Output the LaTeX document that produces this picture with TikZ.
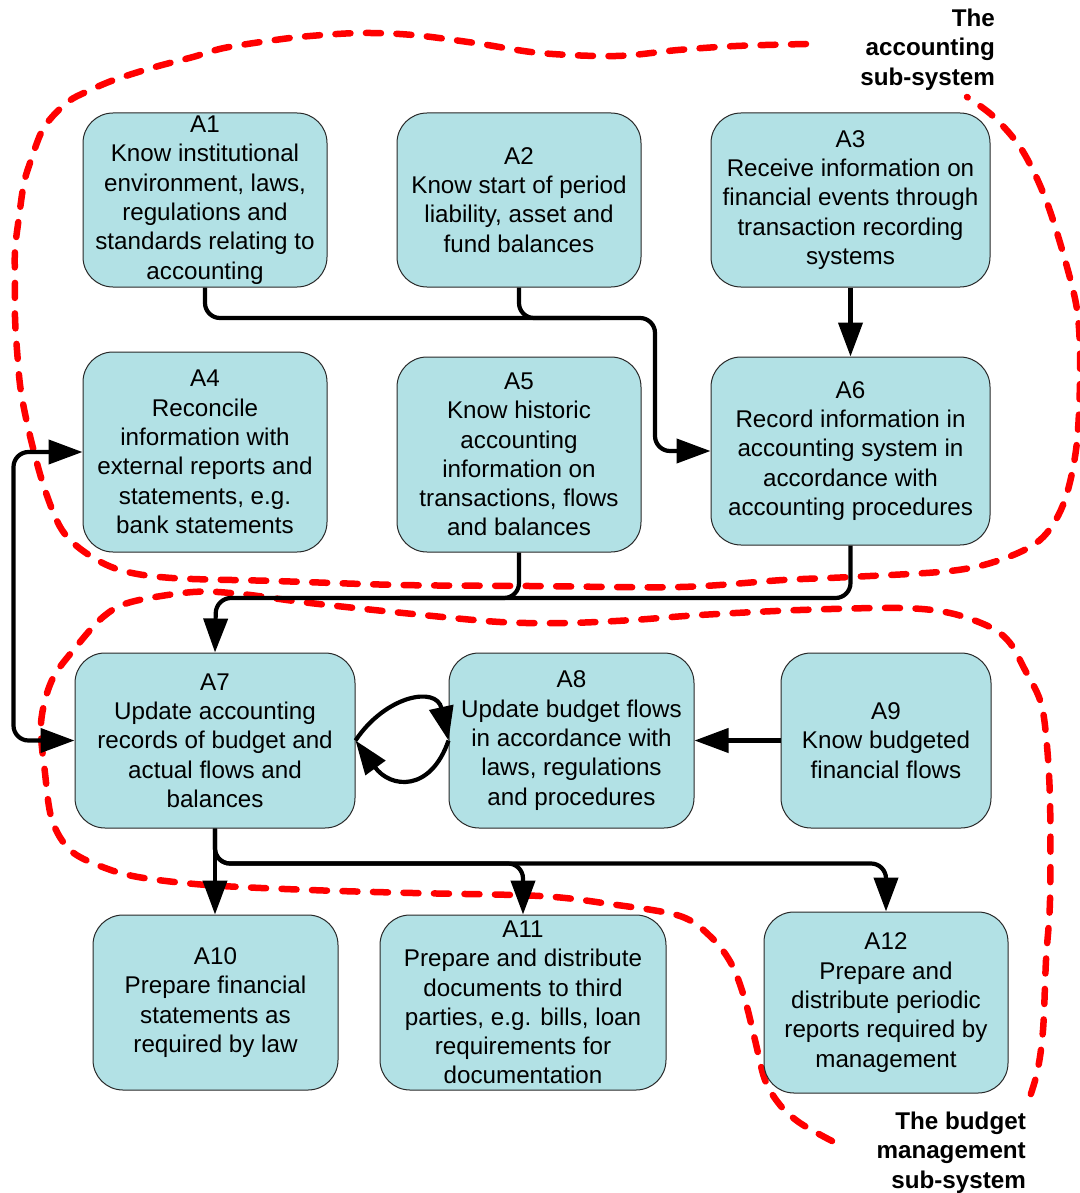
\documentclass[tikz,border=0pt]{standalone}
\usepackage{fontspec}
\setmainfont{Liberation Sans}
\usetikzlibrary{arrows.meta}
\definecolor{boxfill}{RGB}{178,225,229}
\definecolor{boxline}{RGB}{40,40,40}
\begin{document}
\begin{tikzpicture}[x=1pt,y=-1pt,
  box/.style={draw=boxline, line width=1pt, fill=boxfill, rounded corners=30pt, align=center, inner sep=0pt, font=\fontsize{24.2}{29.3}\selectfont},
  conn/.style={line width=4.2pt, rounded corners=15pt},
  arrowend/.style={-{Triangle[length=34pt,width=24pt]}},
  twoends/.style={{Triangle[length=34pt,width=24pt]}-{Triangle[length=34pt,width=24pt]}},
  zone/.style={red, line width=6.5pt, line cap=round, dash pattern=on 15pt off 15.5pt},
  lbl/.style={font=\fontsize{24.2}{29.3}\selectfont\bfseries, align=right, inner sep=0pt}
]
\useasboundingbox (0,0) rectangle (1079,1193);

% sub-system boundaries
\draw[zone] plot[smooth, tension=0.55] coordinates {
 (806,44) (736,46) (678,50) (616,56) (540,53) (475,43) (413,35) (361,33) (310,36)
 (275,40) (224,48) (193,57) (155,67) (114,80) (86,92) (69,101) (52,117) (41,133)
 (31,160) (24,183) (19,217) (15,250) (15,283) (15,317) (17,350) (21,392) (31,440)
 (45,490) (62,530) (86,553) (120,570) (172,578) (275,581) (400,585) (530,586)
 (680,587) (783,580) (850,577) (950,571) (1000,560) (1040,540) (1063,505)
 (1076,450) (1080,380) (1078,317) (1067,267) (1046,200) (1022,150) (994,117) (967,97)};

\draw[zone] plot[smooth, tension=0.55] coordinates {
 (832,1141) (800,1123) (780,1105) (765,1080) (755,1040) (745,1000) (732,965)
 (712,938) (680,916) (610,904) (540,896) (413,893) (310,890) (207,885) (138,877)
 (100,866) (70,850) (52,820) (45,773) (41,723) (52,680) (76,647) (103,617)
 (131,602) (193,592) (241,594) (310,603) (413,614) (500,622) (567,623) (633,620)
 (700,615) (800,610) (900,608) (950,613) (990,627) (1010,643) (1025,670)
 (1040,700) (1046,735) (1050,800) (1050,900) (1046,960) (1043,1030) (1037,1073) (1026,1108)};

% boxes
\node[box, minimum width=244pt, minimum height=174pt] (A1) at (205,200)
  {A1\\Know institutional\\environment, laws,\\regulations and\\standards relating to\\accounting};
\node[box, minimum width=244pt, minimum height=174pt] (A2) at (519,200)
  {A2\\Know start of period\\liability, asset and\\fund balances};
\node[box, minimum width=279pt, minimum height=174pt] (A3) at (850.5,200)
  {A3\\Receive information on\\financial events through\\transaction recording\\systems};
\node[box, minimum width=244pt, minimum height=200pt] (A4) at (205,452)
  {A4\\Reconcile\\information with\\external reports and\\statements, e.g.\\bank statements};
\node[box, minimum width=244pt, minimum height=195pt] (A5) at (519,454.5)
  {A5\\Know historic\\accounting\\information on\\transactions, flows\\and balances};
\node[box, minimum width=279pt, minimum height=188pt] (A6) at (850.5,451)
  {A6\\Record information in\\accounting system in\\accordance with\\accounting procedures};
\node[box, minimum width=280pt, minimum height=175pt] (A7) at (215,740.5)
  {A7\\Update accounting\\records of budget and\\actual flows and\\balances};
\node[box, minimum width=245pt, minimum height=175pt] (A8) at (571.5,740.5)
  {A8\\Update budget flows\\in accordance with\\laws, regulations\\and procedures};
\node[box, minimum width=210pt, minimum height=175pt] (A9) at (886,740.5)
  {A9\\Know budgeted\\financial flows};
\node[box, minimum width=245pt, minimum height=175pt] (A10) at (215.5,1002.5)
  {A10\\Prepare financial\\statements as\\required by law};
\node[box, minimum width=286pt, minimum height=175pt] (A11) at (523,1002.5)
  {A11\\Prepare and distribute\\documents to third\\parties, e.g. bills, loan\\requirements for\\documentation};
\node[box, minimum width=244pt, minimum height=181pt] (A12) at (886,1002.5)
  {A12\\Prepare and\\distribute periodic\\reports required by\\management};

% labels
\node[lbl, anchor=east] (L1) at (995,49.5) {The\\accounting\\sub-system};
\node[lbl, anchor=east] (L2) at (1026,1152.5) {The budget\\management\\sub-system};

% connectors
\draw[conn] (A2.south) |- (600,318);
\draw[conn, arrowend] (A1.south) |- (655,318) |- (A6.west);
\draw[conn, arrowend] (A3.south) -- (A3.south |- A6.north);
\draw[conn] (A5.south) |- (400,598);
\draw[conn, arrowend] (A6.south) |- (216,598) -- (A7.north);
\draw[conn, twoends] (A7.west) -- ++(-61,0) |- (A4.west);
\draw[conn, arrowend] (A7.east) .. controls +(30,-45) and +(-12,-55) .. (A8.west);
\draw[conn, arrowend] (A8.west) .. controls +(-18,52) and +(35,48) .. (A7.east);
\draw[conn, arrowend] (A9.west) -- (A8.east);
\draw[conn, arrowend] (A7.south) -- (A7.south |- A10.north);
\draw[conn, arrowend] (A7.south) -- ++(0,35) -| (A11.north);
\draw[conn, arrowend] (A7.south) -- ++(0,35) -| (A12.north);
\end{tikzpicture}
\end{document}
